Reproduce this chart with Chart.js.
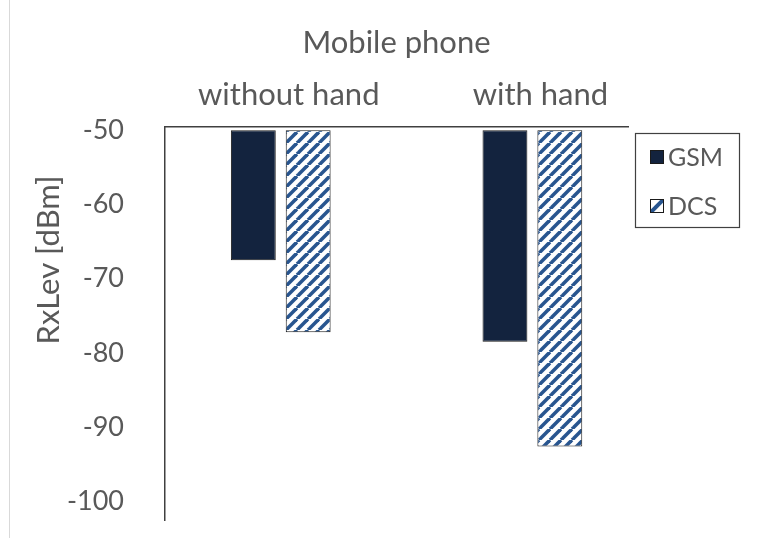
<!DOCTYPE html>
<html>
<head>
<meta charset="utf-8">
<script src="https://cdn.jsdelivr.net/npm/chart.js@4.4.1/dist/chart.umd.min.js"></script>
<style>
  html, body { margin: 0; padding: 0; background: #fff; }
  #wrap { width: 775px; height: 538px; position: relative; }
</style>
</head>
<body>
<div id="wrap"><canvas id="rxChart" width="775" height="538"></canvas></div>
<script>
// chart data
const categories = ['without hand', 'with hand'];
const categoryPos = [0, 1];
const gsmValues = [-67.5, -78.5];
const dcsValues = [-77.2, -92.6];
const seriesNames = ['GSM', 'DCS'];
const yTicks = [-100, -90, -80, -70, -60, -50];
const barBase = -50;

const textColor = '#595959';
const axisColor = '#404040';
const gsmColor = '#13233e';
const stripeColor = '#28558f';

// diagonal hatch for the DCS bars
function makeHatch() {
  const p = 11;
  const c = document.createElement('canvas');
  c.width = p; c.height = p;
  const g = c.getContext('2d');
  g.fillStyle = '#fff';
  g.fillRect(0, 0, p, p);
  g.strokeStyle = stripeColor;
  g.lineWidth = 3.6;
  for (let k = -1; k <= 1; k++) {
    g.beginPath();
    g.moveTo(k * p, p);
    g.lineTo(k * p + p, 0);
    g.stroke();
  }
  return g.createPattern(c, 'repeat');
}

const ctx = document.getElementById('rxChart').getContext('2d');
const hatch = makeHatch();

const toPoints = vals => vals.map((v, i) => ({ x: categoryPos[i], y: v }));

// frame line, y-axis title and boxed legend
const extras = {
  id: 'extras',
  beforeDraw(chart) {
    const c = chart.ctx;
    c.save();
    c.strokeStyle = '#d9d9d9';
    c.lineWidth = 1;
    c.beginPath();
    c.moveTo(9.5, 0);
    c.lineTo(9.5, 538);
    c.stroke();
    c.restore();
  },
  afterDraw(chart) {
    const c = chart.ctx;
    c.save();
    // y title
    c.fillStyle = textColor;
    c.font = '31px Lato';
    c.textAlign = 'center';
    c.textBaseline = 'middle';
    c.translate(49, 260);
    c.rotate(-Math.PI / 2);
    c.fillText('RxLev [dBm]', 0, 0);
    c.restore();

    // legend
    c.save();
    c.strokeStyle = axisColor;
    c.lineWidth = 1.2;
    c.strokeRect(635.5, 133.5, 104, 94);
    const rows = [157, 206];
    chart.data.datasets.forEach((ds, i) => {
      const y = rows[i];
      const x = 650, s = 14;
      if (i === 0) {
        c.fillStyle = ds.backgroundColor;
        c.fillRect(x, y - s / 2, s, s);
      } else {
        c.fillStyle = '#fff';
        c.fillRect(x, y - s / 2, s, s);
        c.save();
        c.beginPath();
        c.rect(x, y - s / 2, s, s);
        c.clip();
        c.strokeStyle = stripeColor;
        c.lineWidth = 4;
        c.beginPath();
        c.moveTo(x, y + s / 2);
        c.lineTo(x + s, y - s / 2);
        c.stroke();
        c.restore();
      }
      c.strokeStyle = '#1a1a1a';
      c.lineWidth = 1;
      c.strokeRect(x + 0.5, y - s / 2 + 0.5, s - 1, s - 1);
      c.fillStyle = textColor;
      c.font = '25px Lato';
      c.textAlign = 'left';
      c.textBaseline = 'middle';
      c.fillText(ds.label, 668, y + 1);
    });
    c.restore();
  }
};

new Chart(ctx, {
  type: 'bar',
  data: {
    datasets: [
      {
        label: seriesNames[0],
        data: toPoints(gsmValues),
        base: barBase,
        backgroundColor: gsmColor,
        borderColor: '#1a1a1a',
        borderWidth: 1,
        borderSkipped: false
      },
      {
        label: seriesNames[1],
        data: toPoints(dcsValues),
        base: barBase,
        backgroundColor: hatch,
        borderColor: '#1a1a1a',
        borderWidth: 1,
        borderSkipped: false
      }
    ]
  },
  options: {
    responsive: false,
    animation: false,
    devicePixelRatio: 1,
    layout: { padding: { left: 0, top: 0, right: 147, bottom: 18 } },
    categoryPercentage: 0.436,
    barPercentage: 0.818,
    plugins: {
      legend: { display: false },
      tooltip: { enabled: false }
    },
    scales: {
      x: {
        type: 'linear',
        position: 'top',
        min: -0.46,
        max: 1.38,
        offset: false,
        grid: { display: false, offset: false },
        border: { display: true, color: axisColor, width: 1.5 },
        afterBuildTicks: scale => { scale.ticks = categoryPos.map(v => ({ value: v })); },
        afterFit: scale => {
          scale.height = 126.5;
          scale.paddingLeft = 0;
          scale.paddingRight = 0;
        },
        ticks: {
          color: textColor,
          font: { family: 'Lato', size: 31 },
          padding: 5,
          labelOffset: 8,
          maxRotation: 0,
          autoSkip: false,
          callback: v => categories[categoryPos.indexOf(v)]
        },
        title: {
          display: true,
          text: 'Mobile phone',
          color: textColor,
          font: { family: 'Lato', size: 31 },
          padding: { top: 24, bottom: 0 }
        }
      },
      y: {
        min: -102.5,
        max: -49.5,
        grid: { display: false },
        border: { display: true, color: axisColor, width: 1.5 },
        afterBuildTicks: scale => { scale.ticks = yTicks.map(v => ({ value: v })); },
        afterFit: scale => {
          scale.width = 165;
          scale.paddingTop = 0;
          scale.paddingBottom = 0;
        },
        ticks: {
          color: textColor,
          font: { family: 'Lato', size: 27 },
          padding: 33
        }
      }
    }
  },
  plugins: [extras]
});
</script>
</body>
</html>
